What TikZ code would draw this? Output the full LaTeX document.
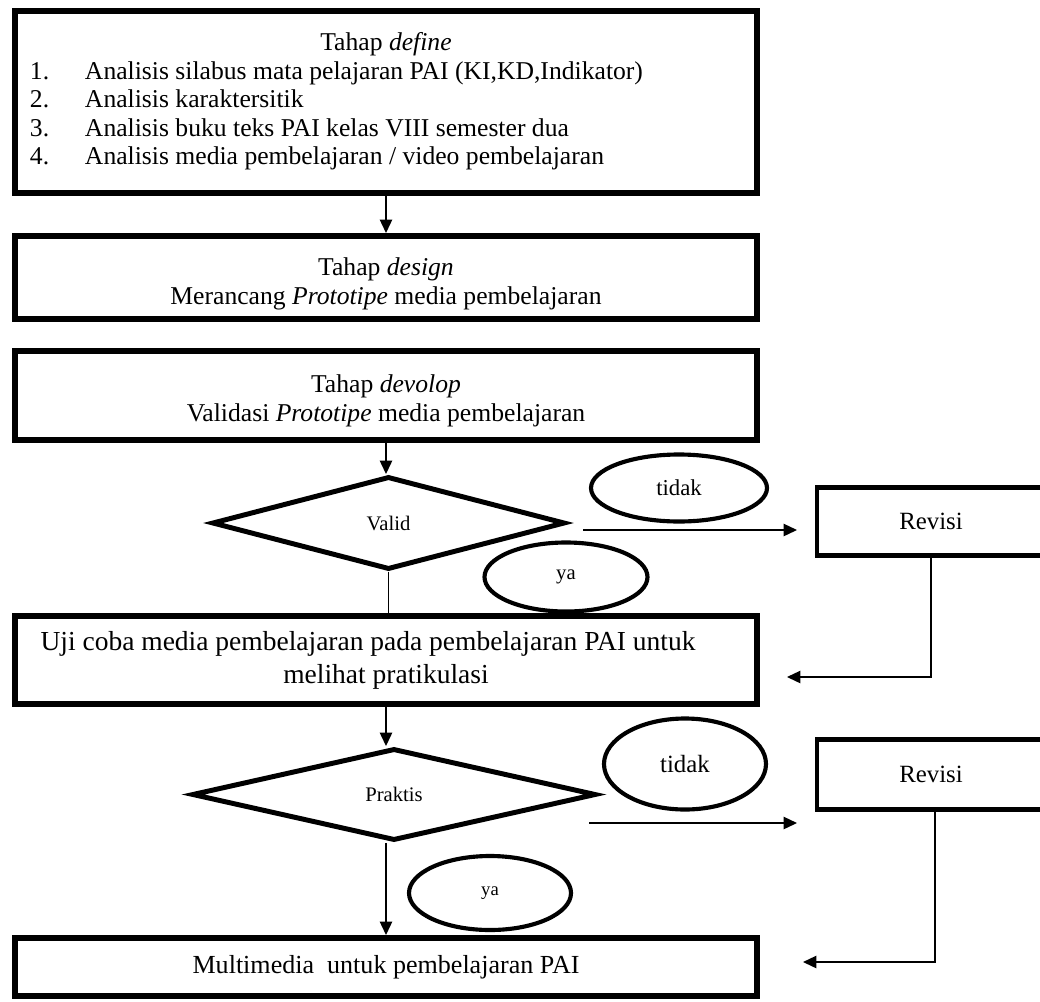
\documentclass[tikz,border=0pt]{standalone}
\usepackage{fontspec}
\setmainfont{Liberation Serif}
\usetikzlibrary{arrows.meta,shapes.geometric}
\newlength{\pxu}
\setlength{\pxu}{0.017cm}

\begin{document}
\begin{tikzpicture}[x = 0.017cm, y = -0.017cm, thin,
    kotak/.style = {draw, line width=2.9pt, rectangle, inner sep=0pt, minimum width=742\pxu,
      font=\fontsize{12.4}{13.8}\selectfont, align=center},
    teks/.style = {inner sep=0pt, font=\fontsize{12.4}{13.8}\selectfont, align=center},
    belah/.style = {draw, line width=2.4pt, diamond, inner sep=0pt, font=\fontsize{10}{12}\selectfont},
    oval/.style = {draw, line width=2pt, ellipse, inner sep=0pt},
    kotakrevisi/.style = {draw, line width=2.4pt, rectangle, inner sep=0pt, minimum width=228\pxu,
      font=\fontsize{12}{14}\selectfont},
    panah/.style = {line width=0.7pt, -{Triangle[length=6.5pt, width=6pt]}},
    garis/.style = {line width=0.7pt}]
  \useasboundingbox (0,0) rectangle (1040,1001);

  % tahap define
  \node (define) at (386,102) [kotak, minimum height=182\pxu] {%
    \begin{tabular}{@{\hspace{12\pxu}}p{55\pxu}@{}p{669\pxu}@{}}
      \multicolumn{2}{c}{Tahap \textit{define}}\\
      1. & Analisis silabus mata pelajaran PAI (KI,KD,Indikator)\\
      2. & Analisis karaktersitik\\
      3. & Analisis buku teks PAI kelas VIII semester dua\\
      4. & Analisis media pembelajaran / video pembelajaran
    \end{tabular}};
  % tahap design
  \node (design) at (386,277.5) [kotak, minimum height=83\pxu] {};
  \node (designteks) at (386,284) [teks]
    {Tahap \textit{design}\\Merancang \textit{Prototipe} media pembelajaran};
  % tahap develop
  \node (develop) at (386,395.5) [kotak, minimum height=89\pxu] {};
  \node (developteks) at (386,401) [teks]
    {Tahap \textit{devolop}\\Validasi \textit{Prototipe} media pembelajaran};

  % validasi
  \node (valid) at (388.5,523) [belah, minimum width=353\pxu, minimum height=93\pxu] {Valid};
  \node (tidaka) at (679,488) [oval, minimum width=176\pxu, minimum height=67\pxu,
    font=\fontsize{11}{13}\selectfont] {tidak};
  \node (yaa) at (566,577) [oval, minimum width=163\pxu, minimum height=69\pxu,
    font=\fontsize{10}{12}\selectfont] {ya};
  \node (revisia) at (931,521.5) [kotakrevisi, minimum height=68\pxu] {Revisi};

  % uji coba
  \node (uji) at (386,660) [kotak, minimum height=88\pxu, font=\fontsize{13.3}{16}\selectfont]
    {Uji coba media pembelajaran pada pembelajaran PAI untuk\hspace*{36\pxu}\\melihat pratikulasi};

  % kepraktisan
  \node (praktis) at (394,794.5) [belah, minimum width=404\pxu, minimum height=92\pxu] {Praktis};
  \node (tidakb) at (685,764) [oval, minimum width=162\pxu, minimum height=91\pxu,
    font=\fontsize{12}{14}\selectfont] {tidak};
  \node (yab) at (490,893) [oval, minimum width=162\pxu, minimum height=74\pxu,
    font=\fontsize{9}{11}\selectfont] {ya};
  \node (revisib) at (931,774.5) [kotakrevisi, minimum height=70\pxu] {Revisi};

  % produk akhir
  \node (multi) at (386,967) [kotak, minimum height=58\pxu, font=\fontsize{12.6}{14}\selectfont]
    {Multimedia\ \ untuk pembelajaran PAI};

  % ujung panah bebas
  \coordinate (va) at (583,530);
  \coordinate (vb) at (797,530);
  \coordinate (ra) at (787,677);
  \coordinate (pa) at (589,823);
  \coordinate (pb) at (797,823);
  \coordinate (rb) at (803,962);

  % alur
  \draw[panah] (define.south) -- (design.north);
  \draw[panah] (develop.south) -- (develop.south |- valid.north);
  \draw[garis] (valid.south) -- (valid.south |- uji.north);
  \draw[panah] (va) -- (vb);
  \draw[panah] (revisia.south) |- (ra);
  \draw[panah] (uji.south) -- (uji.south |- praktis.north);
  \draw[panah] (uji.south |- praktis.south) -- (uji.south |- multi.north);
  \draw[panah] (pa) -- (pb);
  \draw[panah] ([xshift=4\pxu]revisib.south) |- (rb);
\end{tikzpicture}
\end{document}
